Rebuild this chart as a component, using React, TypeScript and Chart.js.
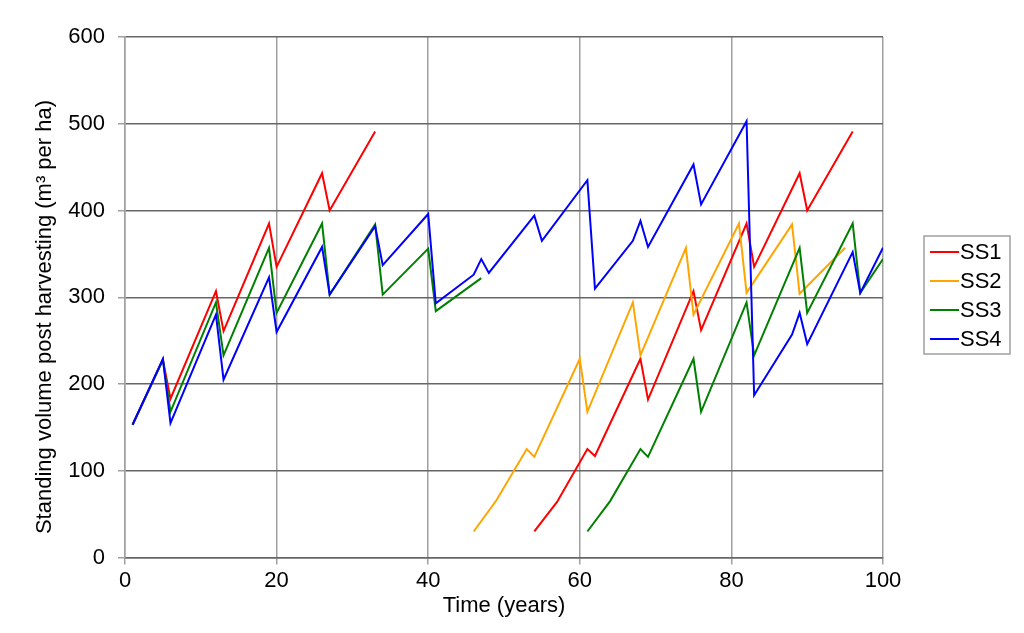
import React, { useEffect, useRef } from "react";
import { Chart, registerables } from "chart.js";

Chart.register(...registerables);

// ---- Data ----
const seriesLabels = ["SS1", "SS2", "SS3", "SS4"];
const seriesColors = ["#FF0000", "#FFA500", "#008000", "#0000FF"];

const xTickValues = [0, 20, 40, 60, 80, 100];
const yTickValues = [0, 100, 200, 300, 400, 500, 600];

// null = gap between the two cycles of a series
const ss1Years = [1, 5, 6, 12, 13, 19, 20, 26, 27, 33, 43, 54, 57, 61, 62, 68, 69, 75, 76, 82, 83, 89, 90, 96];
const ss1Values = [153, 228, 183, 307, 261, 385, 335, 443, 400, 491, null, 30, 64, 125, 117, 229, 182, 307, 262, 385, 335, 443, 400, 491];

const ss2Years = [46, 49, 53, 54, 60, 61, 67, 68, 74, 75, 81, 82, 88, 89, 95];
const ss2Values = [30, 66, 125, 116, 229, 168, 294, 233, 357, 280, 385, 305, 384, 304, 357];

const ss3Years = [1, 5, 6, 12, 13, 19, 20, 26, 27, 33, 34, 40, 41, 47, 54, 61, 64, 68, 69, 75, 76, 82, 83, 89, 90, 96, 97, 100];
const ss3Values = [153, 228, 168, 294, 233, 357, 282, 385, 303, 384, 303, 356, 284, 322, null, 30, 65, 125, 116, 229, 168, 294, 233, 357, 282, 385, 305, 344];

const ss4Years = [1, 5, 6, 12, 13, 19, 20, 26, 27, 33, 34, 40, 41, 46, 47, 48, 54, 55, 61, 62, 67, 68, 69, 75, 76, 82, 83, 88, 89, 90, 96, 97, 100];
const ss4Values = [153, 229, 155, 280, 205, 323, 260, 358, 303, 382, 337, 396, 293, 326, 344, 328, 394, 365, 435, 310, 365, 388, 358, 453, 407, 503, 187, 257, 282, 246, 352, 305, 357];

const xTitle = "Time (years)";
const yTitle = "Standing volume post harvesting (m³ per ha)";

const FONT = "'Liberation Sans', Arial, sans-serif";

function toPoints(xs: number[], ys: (number | null)[]) {
  return xs.map((x, i) => ({ x, y: ys[i] }));
}

const yTitlePlugin = {
  id: "yTitleText",
  afterDraw(chart: any) {
    const ctx = chart.ctx;
    ctx.save();
    ctx.translate(45, 317);
    ctx.rotate(-Math.PI / 2);
    ctx.fillStyle = "#000000";
    ctx.font = `22px ${FONT}`;
    ctx.textAlign = "center";
    ctx.textBaseline = "middle";
    ctx.fillText(yTitle, 0, 0);
    ctx.restore();
  },
};

const legendBoxPlugin = {
  id: "legendBox",
  afterDraw(chart: any) {
    const ctx = chart.ctx;
    const left = 924;
    const top = 236;
    const right = 1010;
    const bottom = 354;
    ctx.save();
    ctx.fillStyle = "#ffffff";
    ctx.fillRect(left, top, right - left, bottom - top);
    ctx.strokeStyle = "#a0a0a0";
    ctx.lineWidth = 1.5;
    ctx.strokeRect(left, top, right - left, bottom - top);
    const rowGap = 29;
    const firstRow = 252;
    chart.data.datasets.forEach((ds: any, i: number) => {
      const y = firstRow + i * rowGap;
      ctx.strokeStyle = ds.borderColor;
      ctx.lineWidth = 2;
      ctx.beginPath();
      ctx.moveTo(930, y);
      ctx.lineTo(959, y);
      ctx.stroke();
      ctx.fillStyle = "#000000";
      ctx.font = `22px ${FONT}`;
      ctx.textAlign = "left";
      ctx.textBaseline = "middle";
      ctx.fillText(ds.label, 960, y + 1);
    });
    ctx.restore();
  },
};

export default function App() {
  const canvasRef = useRef<HTMLCanvasElement | null>(null);

  useEffect(() => {
    if (!canvasRef.current) return;
    const seriesYears = [ss1Years, ss2Years, ss3Years, ss4Years];
    const seriesValues = [ss1Values, ss2Values, ss3Values, ss4Values];
    const drawOrder = [3, 2, 1, 0];
    const chart = new Chart(canvasRef.current, {
      type: "line",
      data: {
        datasets: seriesLabels.map((label, i) => ({
          label,
          data: toPoints(seriesYears[i], seriesValues[i]),
          borderColor: seriesColors[i],
          backgroundColor: seriesColors[i],
          borderWidth: 2,
          pointRadius: 0,
          pointHoverRadius: 0,
          tension: 0,
          spanGaps: false,
          fill: false,
          order: drawOrder[i],
        })),
      },
      options: {
        responsive: false,
        animation: false,
        events: [],
        layout: { padding: { top: 37, right: 141, left: 0, bottom: 0 } },
        plugins: {
          legend: { display: false },
          tooltip: { enabled: false },
        },
        scales: {
          x: {
            type: "linear",
            min: 0,
            max: 100,
            afterFit: (scale: any) => {
              scale.height = 75.5;
            },
            afterBuildTicks: (scale: any) => {
              scale.ticks = xTickValues.map((v) => ({ value: v }));
            },
            ticks: {
              color: "#000",
              font: { family: FONT, size: 22 },
              padding: 3,
              maxRotation: 0,
            },
            grid: {
              color: "#a0a0a0",
              lineWidth: 1.5,
              drawTicks: true,
              tickLength: 7,
              tickColor: "#a0a0a0",
            },
            border: { color: "#666666", width: 1.5 },
            title: {
              display: true,
              text: xTitle,
              color: "#000",
              font: { family: FONT, size: 22 },
              padding: { top: 0, bottom: 14 },
            },
          },
          y: {
            type: "linear",
            min: 0,
            max: 600,
            afterFit: (scale: any) => {
              scale.width = 125;
            },
            afterBuildTicks: (scale: any) => {
              scale.ticks = yTickValues.map((v) => ({ value: v }));
            },
            ticks: {
              color: "#000",
              font: { family: FONT, size: 22 },
              padding: 13,
            },
            grid: {
              color: "#666666",
              lineWidth: 1.5,
              drawTicks: true,
              tickLength: 7,
              tickColor: "#a0a0a0",
            },
            border: { color: "#a0a0a0", width: 1.5 },
            title: { display: false, text: yTitle },
          },
        },
      },
      plugins: [yTitlePlugin, legendBoxPlugin],
    } as any);
    return () => chart.destroy();
  }, []);

  return (
    <div style={{ position: "fixed", left: 0, top: 0, width: 1024, height: 633, background: "#fff" }}>
      <canvas ref={canvasRef} width={1024} height={633} style={{ display: "block" }} />
    </div>
  );
}
